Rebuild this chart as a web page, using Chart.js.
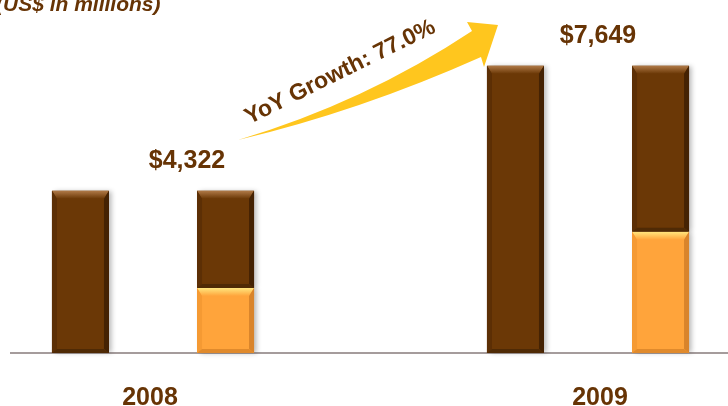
<!DOCTYPE html>
<html>
<head>
<meta charset="utf-8">
<title>Revenue 2008 - 2009</title>
<script src="https://cdn.jsdelivr.net/npm/chart.js@4"></script>
<style>
  html, body { margin: 0; padding: 0; background: #ffffff; }
  #wrap { width: 728px; height: 406px; position: relative; }
</style>
</head>
<body>
<div id="wrap"><canvas id="my-chart"></canvas></div>
<script>
'use strict';

// ********** Data **********

let years = ['2008', '2009'];
let totalRevenue = [4322, 7649];
let segmentOrange = [1730, 3230];
let segmentBrown = [2592, 4419];
let growthText = 'YoY Growth: 77.0%';
let unitText = '(US$ in millions)';

// ********** Colours **********

let textBrown = '#673405';
let brown = { body: '#6B3806', top: '#B07A48', side: '#5C2F05', right: '#442203', bottom: '#4F2A05' };
let orange = { body: '#FFA43B', top: '#FFE67E', side: '#F59A33', right: '#D9842B', bottom: '#E08A2C' };
let fontFamily = '"Liberation Sans", Arial, sans-serif';

// ********** Helpers **********

function money(v) {
  return '$' + v.toLocaleString('en-US');
}

function poly(ctx, pts, fill) {
  ctx.beginPath();
  ctx.moveTo(pts[0][0], pts[0][1]);
  for (let i = 1; i < pts.length; i++) {
    ctx.lineTo(pts[i][0], pts[i][1]);
  }
  ctx.closePath();
  ctx.fillStyle = fill;
  ctx.fill();
}

// bevelled edges on each bar segment
function drawBevel(ctx, bar, pal) {
  let L = bar.x - bar.width / 2;
  let R = bar.x + bar.width / 2;
  let T = Math.min(bar.y, bar.base);
  let B = Math.max(bar.y, bar.base);
  let bt = 8, bs = 5, bb = 4;

  let g = ctx.createLinearGradient(0, T, 0, T + bt);
  g.addColorStop(0, pal.top);
  g.addColorStop(1, pal.body);
  poly(ctx, [[L, T], [R, T], [R - bs, T + bt], [L + bs, T + bt]], g);
  poly(ctx, [[L, T], [L + bs, T + bt], [L + bs, B - bb], [L, B]], pal.side);
  poly(ctx, [[R, T], [R - bs, T + bt], [R - bs, B - bb], [R, B]], pal.right);
  poly(ctx, [[L, B], [L + bs, B - bb], [R - bs, B - bb], [R, B]], pal.bottom);
}

// ********** Plugin: baseline, shadows, bevels, labels, arrow **********

let decorPlugin = {
  id: 'decor',
  beforeDatasetsDraw(chart) {
    let ctx = chart.ctx;
    let y0 = chart.scales.y.getPixelForValue(0);
    ctx.save();
    ctx.strokeStyle = '#A59C9C';
    ctx.lineWidth = 2;
    ctx.beginPath();
    ctx.moveTo(10, y0);
    ctx.lineTo(chart.width, y0);
    ctx.stroke();
    ctx.restore();

    ctx.save();
    ctx.shadowColor = 'rgba(0,0,0,0.28)';
    ctx.shadowBlur = 5;
    ctx.shadowOffsetX = 3;
    ctx.shadowOffsetY = 0;
  },
  afterDatasetsDraw(chart) {
    let ctx = chart.ctx;
    ctx.restore();

    let pals = [brown, orange, brown];
    chart.data.datasets.forEach(function (ds, i) {
      let meta = chart.getDatasetMeta(i);
      meta.data.forEach(function (bar) {
        drawBevel(ctx, bar, pals[i]);
      });
    });

    let xScale = chart.scales.x;
    let y0 = chart.scales.y.getPixelForValue(0);

    // total labels above the bars, year labels under the baseline
    let totalShift = [34, 10];
    let yearShift = [-3, 12];
    let totals = chart.getDatasetMeta(0).data;
    ctx.save();
    ctx.fillStyle = textBrown;
    ctx.font = 'bold 25px ' + fontFamily;
    ctx.textAlign = 'center';
    ctx.textBaseline = 'middle';
    for (let i = 0; i < years.length; i++) {
      let cx = xScale.getPixelForValue(i);
      ctx.fillText(money(totalRevenue[i]), cx + totalShift[i], totals[i].y - 30);
      ctx.fillText(years[i], cx + yearShift[i], y0 + 45);
    }
    ctx.restore();

    // growth arrow
    ctx.save();
    ctx.beginPath();
    ctx.moveTo(238, 140);
    ctx.quadraticCurveTo(365, 102, 472, 31);
    ctx.lineTo(467, 22);
    ctx.lineTo(498, 25);
    ctx.lineTo(484, 67);
    ctx.lineTo(481, 57);
    ctx.quadraticCurveTo(360, 111, 238, 140);
    ctx.closePath();
    ctx.fillStyle = '#FFC61E';
    ctx.fill();

    ctx.translate(343, 78);
    ctx.rotate(-0.46);
    ctx.fillStyle = textBrown;
    ctx.font = 'bold 23px ' + fontFamily;
    ctx.textAlign = 'center';
    ctx.textBaseline = 'alphabetic';
    ctx.fillText(growthText, 0, 0);
    ctx.restore();

    // unit caption, sitting partly above the canvas
    ctx.save();
    ctx.fillStyle = textBrown;
    ctx.font = 'italic bold 21px ' + fontFamily;
    ctx.textAlign = 'left';
    ctx.textBaseline = 'alphabetic';
    ctx.fillText(unitText, -4, 11);
    ctx.restore();
  }
};

// ********** Chart **********

let canvasElem = document.getElementById('my-chart');

let barCommon = {
  borderWidth: 0,
  categoryPercentage: 0.667,
  barPercentage: 0.393,
  clip: false
};

new Chart(canvasElem, {
  type: 'bar',
  data: {
    labels: years,
    datasets: [
      Object.assign({ label: 'Total', data: totalRevenue, backgroundColor: brown.body, stack: 'total' }, barCommon),
      Object.assign({ label: 'Orange', data: segmentOrange, backgroundColor: orange.body, stack: 'split' }, barCommon),
      Object.assign({ label: 'Brown', data: segmentBrown, backgroundColor: brown.body, stack: 'split' }, barCommon)
    ]
  },
  options: {
    responsive: true,
    maintainAspectRatio: false,
    animation: false,
    layout: { padding: { left: 153, right: 140, top: 0, bottom: 53 } },
    plugins: {
      legend: { display: false },
      tooltip: { enabled: false }
    },
    scales: {
      x: {
        stacked: true,
        offset: false,
        grid: { display: false, drawTicks: false },
        border: { display: false },
        ticks: { display: false }
      },
      y: {
        display: false,
        stacked: true,
        min: 0,
        max: 9400
      }
    }
  },
  plugins: [decorPlugin]
});
</script>
</body>
</html>
